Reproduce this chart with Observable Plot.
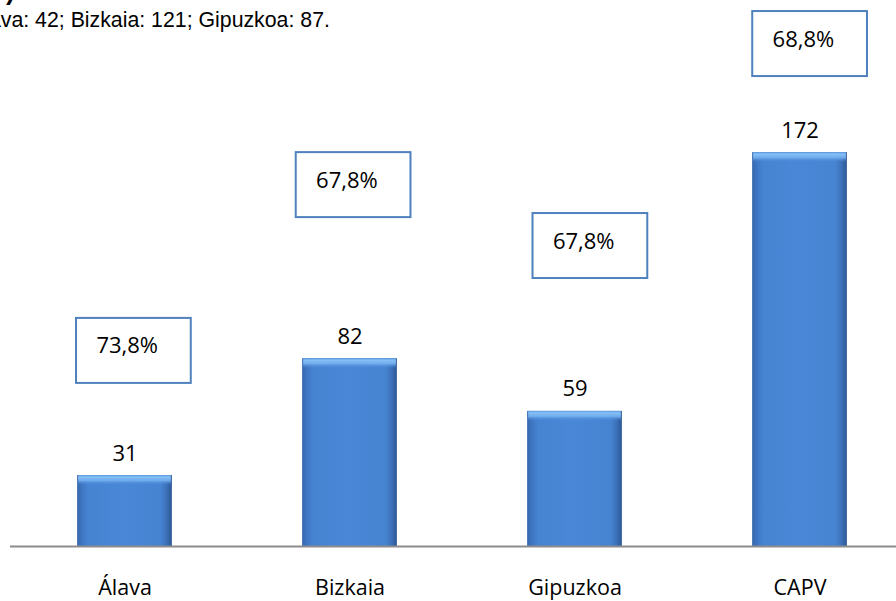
<!DOCTYPE html>
<html><head><meta charset="utf-8">
<script src="https://cdn.jsdelivr.net/npm/d3@7"></script>
<script src="https://cdn.jsdelivr.net/npm/@observablehq/plot@0.6"></script>
<style>
html,body{margin:0;padding:0;background:#fff;overflow:hidden;width:896px;height:601px;}
#wrap{position:relative;width:896px;height:601px;overflow:hidden;}
#note{position:absolute;left:-30px;top:10px;font-family:"Liberation Sans",Arial,sans-serif;font-size:21.3px;line-height:21px;color:#000;white-space:nowrap;}
#title{position:absolute;left:6px;top:-22px;font-family:"Liberation Sans",Arial,sans-serif;font-weight:bold;font-size:26px;line-height:26px;color:#000;white-space:nowrap;}
</style></head><body>
<div id="wrap"><div id="chart"></div><div id="title">)</div><div id="note">Álava: 42; Bizkaia: 121; Gipuzkoa: 87.</div></div>
<script>
const categories = ["Álava", "Bizkaia", "Gipuzkoa", "CAPV"];
const counts = [31, 82, 59, 172];
const shares = ["73,8%", "67,8%", "67,8%", "68,8%"];

// layout of the hand-placed percentage boxes (y in value units, shift in px from band centre)
const boxTop = [99.6, 172, 145.4, 233.6];
const boxShift = [-48.6, -53.9, -42.1, -47.4];

const data = categories.map((c, i) => ({c, n: counts[i], s: shares[i], top: boxTop[i], shift: boxShift[i]}));

const xRange = [11, 912];
const step = (xRange[1] - xRange[0]) / categories.length;
const barInset = (step - 95) / 2;
const boxW = 115;

const marks = [
  Plot.barY(data, {x: "c", y: "n", fill: "url(#barSide)", insetLeft: barInset, insetRight: barInset}),
  Plot.barY(data, {x: "c", y1: "n", y2: "n", insetLeft: barInset + 1, insetRight: barInset + 1, insetBottom: -10, fill: "url(#barTop)"}),
  Plot.ruleY([0], {stroke: "#8c8c8c", strokeWidth: 2}),
  Plot.text(data, {x: "c", y: "n", text: d => String(d.n), dy: -15, lineAnchor: "bottom", fontSize: 22, fill: "#000"}),
  Plot.text(data, {x: "c", y: 0, text: "c", dy: 42, lineAnchor: "middle", fontSize: 21.5, fill: "#000"})
];
data.forEach(d => {
  const il = step / 2 + d.shift;
  marks.push(Plot.barY([d], {x: "c", y1: "top", y2: "top", insetLeft: il, insetRight: step - il - boxW, insetBottom: -65, fill: "#fff", stroke: "#4f81bd", strokeWidth: 2}));
  marks.push(Plot.text([d], {x: "c", y: "top", text: "s", dx: d.shift + 20, dy: 35, textAnchor: "start", lineAnchor: "bottom", fontSize: 22, fill: "#000"}));
});

const chart = Plot.plot({
  width: 896,
  height: 601,
  marginLeft: 10,
  marginRight: 0,
  marginTop: 0,
  marginBottom: 55,
  style: {fontFamily: "'Open Sans', 'Noto Sans', sans-serif", background: "#fff", overflow: "visible"},
  x: {domain: categories, range: xRange, padding: 0, axis: null},
  y: {domain: [0, 200], range: [546, 88], axis: null},
  marks
});

const defs = d3.select(chart).insert("defs", ":first-child");
const sideGrad = defs.append("linearGradient").attr("id", "barSide").attr("x1", 0).attr("x2", 1).attr("y1", 0).attr("y2", 0);
[[0, "#3667ad"], [0.06, "#4078c6"], [0.12, "#4684d2"], [0.5, "#4a87d6"], [0.88, "#4684d2"], [0.94, "#3d72bb"], [1, "#2c5894"]]
  .forEach(([o, c]) => sideGrad.append("stop").attr("offset", o).attr("stop-color", c));
const topGrad = defs.append("linearGradient").attr("id", "barTop").attr("x1", 0).attr("x2", 0).attr("y1", 0).attr("y2", 1);
[[0, "#5b98df", 1], [0.2, "#86c0f6", 1], [0.55, "#72adee", 0.95], [1, "#4a87d6", 0]]
  .forEach(([o, c, a]) => topGrad.append("stop").attr("offset", o).attr("stop-color", c).attr("stop-opacity", a));

document.getElementById("chart").appendChild(chart);
</script>
</body></html>
